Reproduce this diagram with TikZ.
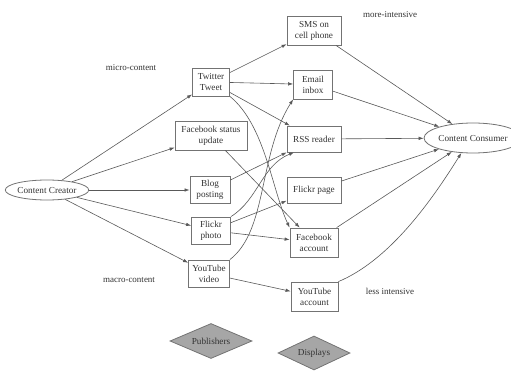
\documentclass[tikz,border=0pt]{standalone}
\usepackage{fontspec}
\setmainfont{Liberation Serif}
\usetikzlibrary{shapes.geometric,arrows.meta,calc}
\begin{document}
\begin{tikzpicture}[x=1pt,y=1pt,
 every node/.style={font=\fontsize{9.2}{11}\selectfont, text=black!80},
 box/.style={draw=black!55, line width=0.8pt, fill=white, inner sep=0pt, align=center},
 oval/.style={ellipse, draw=black!55, line width=0.8pt, fill=white, inner sep=0pt},
 dia/.style={diamond, draw=black!55, line width=0.8pt, fill=black!35, inner sep=0pt, aspect=2.3},
 lbl/.style={font=\fontsize{9}{10}\selectfont},
 edge/.style={draw=black!65, line width=0.6pt, -{Latex[length=5pt,width=3.5pt]}}]
\path[use as bounding box] (0,0) rectangle (511,370);

% nodes
\node[oval, minimum width=80, minimum height=20] (cc) at (47,180) {Content Creator};
\node[box, minimum width=37, minimum height=28] (tw) at (211,288) {Twitter\\Tweet};
\node[box, minimum width=72, minimum height=29] (fbs) at (211,234.5) {Facebook status\\update};
\node[box, minimum width=40, minimum height=27] (blog) at (210,180) {Blog\\posting};
\node[box, minimum width=39, minimum height=27] (fp) at (211,139.5) {Flickr\\photo};
\node[box, minimum width=41, minimum height=27] (ytv) at (209,96.5) {YouTube\\video};

\node[box, minimum width=54, minimum height=29] (sms) at (314,339.5) {SMS on\\cell phone};
\node[box, minimum width=39, minimum height=29] (email) at (313,285.5) {Email\\inbox};
\node[box, minimum width=54, minimum height=26] (rss) at (314,231) {RSS reader};
\node[box, minimum width=54, minimum height=26] (fpage) at (314,180) {Flickr page};
\node[box, minimum width=48, minimum height=29] (fba) at (314,127.5) {Facebook\\account};
\node[box, minimum width=47, minimum height=29] (yta) at (314.5,73.5) {YouTube\\account};

\node[oval, minimum width=90, minimum height=30] (cons) at (473,232) {Content Consumer};

\node[dia, minimum width=82, minimum height=35] (pub) at (211,29) {Publishers};
\node[dia, minimum width=72, minimum height=34] (disp) at (314,17) {Displays};

\node[lbl] (micro) at (131,302) {micro-content};
\node[lbl] (macro) at (129,90) {macro-content};
\node[lbl] (more) at (390,355) {more-intensive};
\node[lbl] (less) at (390,79) {less intensive};

% creator edges
\foreach \t in {tw,fbs,blog,fp,ytv} \draw[edge] (cc) -- (\t);

% publisher to display edges
\draw[edge] (tw) -- (sms);
\draw[edge] (tw) -- (email);
\draw[edge] (tw) -- (rss);
\draw[edge] (tw.south east) .. controls (265,245) and (272,180) .. (fba.north west);
\draw[edge] (fbs) -- (fba);
\draw[edge] (blog) -- (rss.south west);
\draw[edge] (fp.north east) .. controls (258,170) and (262,205) .. ($(rss.south)+(-20,0)$);
\draw[edge] (fp) -- (fpage);
\draw[edge] (fp) -- (fba);
\draw[edge] (ytv.north east) .. controls (268,140) and (258,215) .. (email.south west);
\draw[edge] (ytv) -- (yta);

% display to consumer edges
\foreach \s in {sms,email,rss,fpage,fba} \draw[edge] (\s) -- (cons);
\draw[edge] (yta.north east) .. controls (390,110) and (432,170) .. (cons.232);
\end{tikzpicture}
\end{document}
